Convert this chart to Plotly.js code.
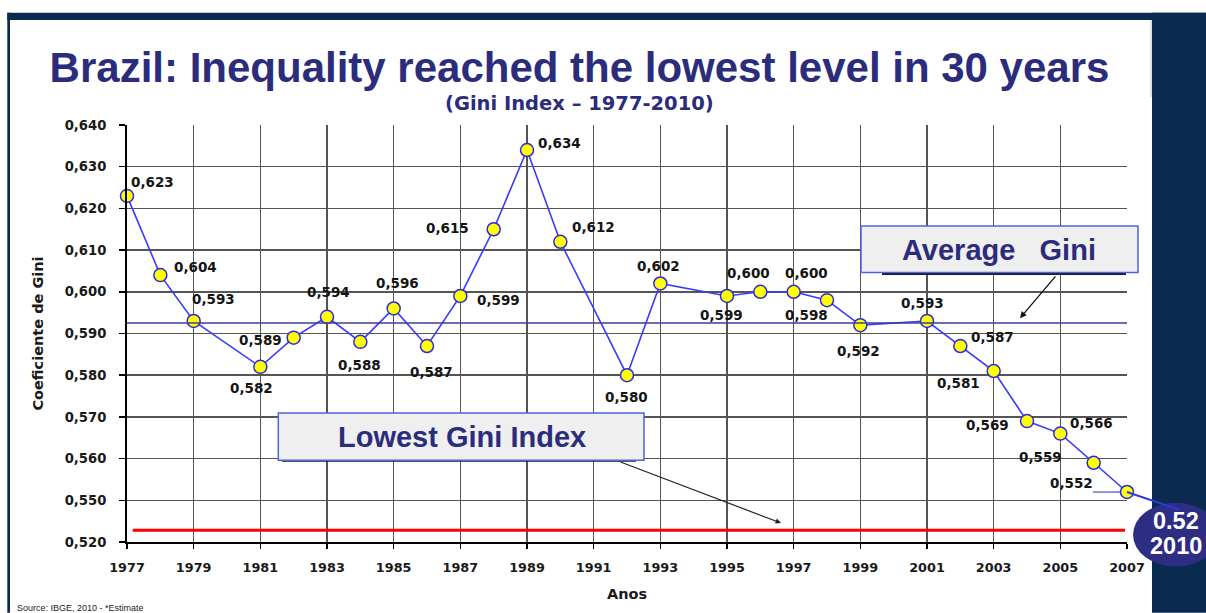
<!DOCTYPE html>
<html>
<head>
<meta charset="utf-8">
<script src="https://cdn.plot.ly/plotly-3.0.1.min.js"></script>
<style>html,body{margin:0;padding:0;background:#fff;}#chart{width:1206px;height:613px;}</style>
</head>
<body>
<div id="chart"></div>
<script>
// ---- data ----
const years = [1977,1978,1979,1981,1982,1983,1984,1985,1986,1987,1988,1989,1990,1992,1993,1995,1996,1997,1998,1999,2001,2002,2003,2004,2005,2006,2007];
const gini  = [0.623,0.604,0.593,0.582,0.589,0.594,0.588,0.596,0.587,0.599,0.615,0.634,0.612,0.580,0.602,0.599,0.600,0.600,0.598,0.592,0.593,0.587,0.581,0.569,0.566,0.559,0.552];
const averageGini = 0.5925;
const lowestYear = 2010;
const lowestValue = 0.52;
const xTickYears = [1977,1979,1981,1983,1985,1987,1989,1991,1993,1995,1997,1999,2001,2003,2005,2007];
// broken y axis: the lowest tick position is labelled 0,520
const yTickPos = [0.54,0.55,0.56,0.57,0.58,0.59,0.60,0.61,0.62,0.63,0.64];
const yTickText = ['0,520','0,550','0,560','0,570','0,580','0,590','0,600','0,610','0,620','0,630','0,640'];
const titleText = 'Brazil: Inequality reached the lowest level in 30 years';
const subtitleText = '(Gini Index – 1977-2010)';

// ---- styling / placement (pixels) ----
const labelOffsets = [[25,-14],[35,-8.5],[20,-22],[-9,21],[-33,2],[1,-25],[-1,23],[4,-25],[4,26],[38,4],[-46,-1],[32,-7],[33,-15],[-1,22],[-2,-17],[-6,19],[-12,-19],[13,-19],[-21,15],[-1.5,25.5],[-5,-18],[32,-9],[-35,12],[-40,4],[31,-11],[-53,-6],[-56,-9]];
const L = 127, T = 125, W = 1000, H = 417.3;
const fx = p => (p - L) / W;
const fy = p => (T + H - p) / H;
const NAVY = '#0b2a50';
const INDIGO = '#2b2c7c';
const redLineLevel = 0.5428;

const fmt = v => v.toFixed(3).replace('.', ',');

const trace = {
  x: years, y: gini, type: 'scatter', mode: 'lines+markers',
  line: {color: '#3a3aff', width: 1.6},
  marker: {symbol: 'circle', size: 13, color: '#ffff00', line: {color: '#2a2ae0', width: 1.5}},
  cliponaxis: false, hoverinfo: 'x+y', showlegend: false
};

const annotations = years.map((yr, i) => ({
  x: yr, y: gini[i], xref: 'x', yref: 'y', text: fmt(gini[i]), showarrow: false,
  xshift: labelOffsets[i][0], yshift: -labelOffsets[i][1],
  font: {family: 'DejaVu Sans', size: 13.5, color: '#151515', weight: 'bold'}
}));

annotations.push(
  {x: fx(579), y: fy(103), xref: 'paper', yref: 'paper', text: subtitleText, showarrow: false,
   xanchor: 'center', yanchor: 'middle', font: {family: 'DejaVu Sans', size: 19.5, color: INDIGO, weight: 'bold'}},
  {x: fx(999), y: fy(250), xref: 'paper', yref: 'paper', text: 'Average&nbsp;&nbsp;&nbsp;Gini', showarrow: false,
   xanchor: 'center', yanchor: 'middle', font: {family: 'Liberation Sans', size: 29, color: INDIGO, weight: 'bold'}},
  {x: fx(461.5), y: fy(437.5), xref: 'paper', yref: 'paper', text: 'Lowest Gini Index', showarrow: false,
   xanchor: 'center', yanchor: 'middle', font: {family: 'Liberation Sans', size: 29, color: INDIGO, weight: 'bold'}},
  {x: fx(1020), y: fy(318.3), xref: 'paper', yref: 'paper', text: '', showarrow: true,
   ax: 36.7, ay: -43.3, arrowhead: 2, arrowsize: 1, arrowwidth: 1.3, arrowcolor: '#111'},
  {x: fx(781), y: fy(523.3), xref: 'paper', yref: 'paper', text: '', showarrow: true,
   ax: -162, ay: -61.6, arrowhead: 2, arrowsize: 0.9, arrowwidth: 1.2, arrowcolor: '#222'},
  {x: years[years.length-1], y: gini[gini.length-1], xref: 'x', yref: 'y', text: '', showarrow: true,
   ax: 53, ay: 18, arrowhead: 0, arrowwidth: 2, arrowcolor: '#2a3ae0'},
  {x: fx(1176), y: fy(521), xref: 'paper', yref: 'paper', text: String(lowestValue), showarrow: false,
   xanchor: 'center', yanchor: 'middle', font: {family: 'Liberation Sans', size: 23.5, color: '#ffffff', weight: 'bold'}},
  {x: fx(1176), y: fy(546.5), xref: 'paper', yref: 'paper', text: String(lowestYear), showarrow: false,
   xanchor: 'center', yanchor: 'middle', font: {family: 'Liberation Sans', size: 23.5, color: '#ffffff', weight: 'bold'}},
  {x: fx(15), y: fy(601), xref: 'paper', yref: 'paper', text: 'Source: IBGE, 2010 - *Estimate', showarrow: false,
   xanchor: 'left', yanchor: 'top', font: {family: 'Liberation Sans', size: 9, color: '#222'}}
);

const shapes = [
  // frame
  {type: 'rect', xref: 'paper', yref: 'paper', x0: fx(7.3), x1: fx(1206), y0: fy(12.7), y1: fy(20), fillcolor: NAVY, line: {width: 0}, layer: 'below'},
  {type: 'rect', xref: 'paper', yref: 'paper', x0: fx(7.3), x1: fx(10), y0: fy(12.7), y1: fy(613), fillcolor: NAVY, line: {width: 0}, layer: 'below'},
  {type: 'rect', xref: 'paper', yref: 'paper', x0: fx(1152), x1: fx(1206), y0: fy(12.7), y1: fy(613), fillcolor: NAVY, line: {width: 0}, layer: 'below'},
  {type: 'line', xref: 'paper', yref: 'paper', x0: fx(1151), x1: fx(1151), y0: fy(20), y1: fy(97), line: {color: '#c4c4c4', width: 1}, layer: 'below'},
  // average line
  {type: 'line', xref: 'paper', yref: 'y', x0: 0, x1: 1, y0: averageGini, y1: averageGini, line: {color: '#3c3c9e', width: 1.6}, layer: 'above'},
  // lowest (red) line
  {type: 'line', xref: 'paper', yref: 'y', x0: fx(132.7), x1: fx(1125), y0: redLineLevel, y1: redLineLevel, line: {color: '#ff0000', width: 3}, layer: 'above'},
  // Average Gini box
  {type: 'rect', xref: 'paper', yref: 'paper', x0: fx(882), x1: fx(1126), y0: fy(232), y1: fy(275), fillcolor: '#1a1a2a', line: {width: 0}, layer: 'above'},
  {type: 'rect', xref: 'paper', yref: 'paper', x0: fx(861), x1: fx(1138), y0: fy(226), y1: fy(272.5), fillcolor: '#efefef', line: {color: '#4a66e0', width: 1.5}, layer: 'above'},
  // Lowest Gini box
  {type: 'rect', xref: 'paper', yref: 'paper', x0: fx(282), x1: fx(636), y0: fy(418), y1: fy(462), fillcolor: '#1a1a2a', line: {width: 0}, layer: 'above'},
  {type: 'rect', xref: 'paper', yref: 'paper', x0: fx(278.3), x1: fx(644), y0: fy(413.3), y1: fy(460.5), fillcolor: '#efefef', line: {color: '#4a66e0', width: 1.5}, layer: 'above'},
  // leader for last label
  {type: 'line', xref: 'paper', yref: 'paper', x0: fx(1093), x1: fx(1120), y0: fy(492.3), y1: fy(492.3), line: {color: '#4a4ad0', width: 1.2}, layer: 'above'},
  // 2010 circle
  {type: 'circle', xref: 'paper', yref: 'paper', x0: fx(1133), x1: fx(1219), y0: fy(503), y1: fy(567), fillcolor: '#2d2d83', line: {width: 0}, layer: 'above'}
];

const layout = {
  width: 1206, height: 613,
  margin: {l: L, r: 1206 - L - W, t: T, b: 613 - T - H},
  paper_bgcolor: '#ffffff', plot_bgcolor: '#ffffff',
  title: {text: titleText, x: 579.5 / 1206, xref: 'container', xanchor: 'center',
          y: 1 - 67.5 / 613, yref: 'container', yanchor: 'middle',
          font: {family: 'Liberation Sans', size: 42, color: INDIGO, weight: 'bold'}},
  xaxis: {
    range: [1977, 2007], tickmode: 'array', tickvals: xTickYears, ticktext: xTickYears.map(String),
    showgrid: true, gridcolor: '#555555', gridwidth: 1.5,
    showline: true, linecolor: '#000', linewidth: 2, mirror: false,
    ticks: 'outside', ticklen: 5, tickcolor: '#000', tickwidth: 1.5, ticklabelstandoff: 8,
    zeroline: false,
    tickfont: {family: 'DejaVu Sans', size: 12.8, color: '#1a1a1a', weight: 'bold'},
    title: {text: 'Anos', standoff: 14, font: {family: 'DejaVu Sans', size: 14.5, color: '#1a1a1a', weight: 'bold'}}
  },
  yaxis: {
    range: [0.54, 0.64], tickmode: 'array', tickvals: yTickPos, ticktext: yTickText,
    showgrid: true, gridcolor: '#555555', gridwidth: 1.5,
    showline: true, linecolor: '#000', linewidth: 2,
    ticks: 'outside', ticklen: 6, tickcolor: '#000', tickwidth: 1.5, ticklabelstandoff: 10,
    zeroline: false,
    tickfont: {family: 'DejaVu Sans', size: 13.2, color: '#1a1a1a', weight: 'bold'},
    title: {text: 'Coeficiente de Gini', standoff: 18, font: {family: 'DejaVu Sans', size: 14.5, color: '#1a1a1a', weight: 'bold'}}
  },
  shapes: shapes,
  annotations: annotations,
  showlegend: false
};

Plotly.newPlot('chart', [trace], layout, {displayModeBar: false, staticPlot: true});
</script>
</body>
</html>
